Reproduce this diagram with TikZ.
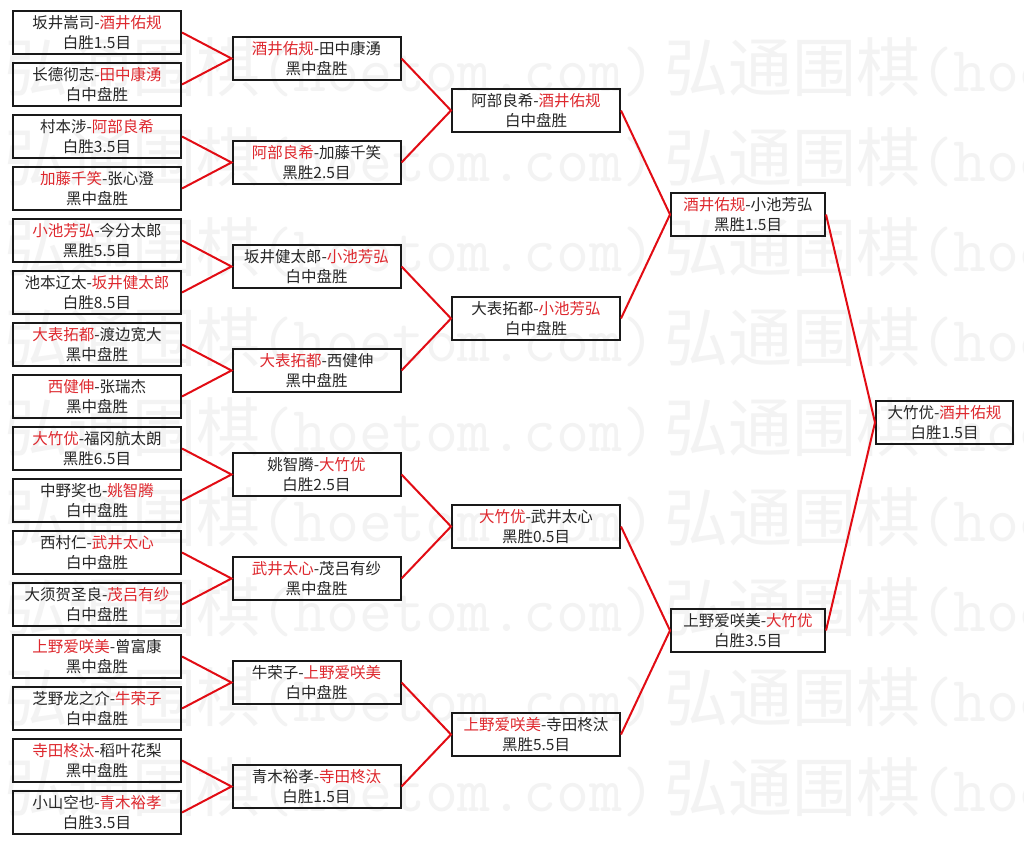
\documentclass[tikz,border=0pt]{standalone}
\usepackage{fontspec}
\setmainfont{Noto Sans CJK SC}
\usepackage{tikz}
\definecolor{linkred}{RGB}{226,12,20}
\definecolor{winred}{RGB}{222,40,46}
\definecolor{wmgray}{RGB}{243,243,243}
\newcommand{\winner}[1]{\textcolor{winred}{#1}}

\begin{document}
\begin{tikzpicture}[x=1pt,y=-1pt,
  game/.style={draw=black!90,line width=2pt,minimum width=168pt,minimum height=43pt,inner sep=0pt,align=center,font=\fontsize{15.5}{20}\selectfont,text=black!85},
  semi/.style={game,minimum width=154pt},
  final/.style={game,minimum width=137pt},
  link/.style={draw=linkred,line width=2pt},
  wmark/.style={anchor=west,inner sep=0pt,text=wmgray,font=\fontsize{64}{64}\selectfont}
]
\useasboundingbox (0,0) rectangle (1024,845);
\fill[white] (0,0) rectangle (1024,845);

% watermark rows
\begin{scope}
\clip (0,0) rectangle (1024,845);
\foreach \k in {0,...,8} {
  \foreach \s/\c in {-656/0,4/1,664/2} {
    \node[wmark] (wm-\k-\c) at (\s,67+\k*90) {弘通围棋{\ttfamily(hoetom.com)}};
  }
}
\end{scope}

% Round 1 (16 games)
\foreach \i/\pair/\res in {0/{坂井嵩司-\winner{酒井佑规}}/白胜1.5目,
  1/{长德彻志-\winner{田中康湧}}/白中盘胜,
  2/{村本涉-\winner{阿部良希}}/白胜3.5目,
  3/{\winner{加藤千笑}-张心澄}/黑中盘胜,
  4/{\winner{小池芳弘}-今分太郎}/黑胜5.5目,
  5/{池本辽太-\winner{坂井健太郎}}/白胜8.5目,
  6/{\winner{大表拓都}-渡边宽大}/黑中盘胜,
  7/{\winner{西健伸}-张瑞杰}/黑中盘胜,
  8/{\winner{大竹优}-福冈航太朗}/黑胜6.5目,
  9/{中野奖也-\winner{姚智腾}}/白中盘胜,
  10/{西村仁-\winner{武井太心}}/白中盘胜,
  11/{大须贺圣良-\winner{茂吕有纱}}/白中盘胜,
  12/{\winner{上野爱咲美}-曾富康}/黑中盘胜,
  13/{芝野龙之介-\winner{牛荣子}}/白中盘胜,
  14/{\winner{寺田柊汰}-稻叶花梨}/黑中盘胜,
  15/{小山空也-\winner{青木裕孝}}/白胜3.5目} {
  \node[game] (r1-\i) at (97,32.5+\i*52) {\pair\\\res};
}

% Round 2 (8 games)
\foreach \i/\pair/\res in {0/{\winner{酒井佑规}-田中康湧}/黑中盘胜,
  1/{\winner{阿部良希}-加藤千笑}/黑胜2.5目,
  2/{坂井健太郎-\winner{小池芳弘}}/白中盘胜,
  3/{\winner{大表拓都}-西健伸}/黑中盘胜,
  4/{姚智腾-\winner{大竹优}}/白胜2.5目,
  5/{\winner{武井太心}-茂吕有纱}/黑中盘胜,
  6/{牛荣子-\winner{上野爱咲美}}/白中盘胜,
  7/{青木裕孝-\winner{寺田柊汰}}/白胜1.5目} {
  \node[game] (r2-\i) at (316.5,58.5+\i*104) {\pair\\\res};
}

% Round 3 (4 games)
\foreach \i/\pair/\res in {0/{阿部良希-\winner{酒井佑规}}/白中盘胜,
  1/{大表拓都-\winner{小池芳弘}}/白中盘胜,
  2/{\winner{大竹优}-武井太心}/黑胜0.5目,
  3/{\winner{上野爱咲美}-寺田柊汰}/黑胜5.5目} {
  \node[game] (r3-\i) at (536,110.5+\i*208) {\pair\\\res};
}

% Semi-finals
\node[semi] (r4-0) at (748,214.5) {\winner{酒井佑规}-小池芳弘\\黑胜1.5目};
\node[semi] (r4-1) at (748,630.5) {上野爱咲美-\winner{大竹优}\\白胜3.5目};

% Final
\node[final] (r5-0) at (944.5,422.5) {大竹优-\winner{酒井佑规}\\白胜1.5目};

% connectors: two games feed one game of the next round
\foreach \i in {0,...,7} {
  \pgfmathtruncatemacro\ga{2*\i}
  \pgfmathtruncatemacro\gb{2*\i+1}
  \draw[link] (r1-\ga.east) -- (r2-\i.west) -- (r1-\gb.east);
}
\foreach \i in {0,...,3} {
  \pgfmathtruncatemacro\ga{2*\i}
  \pgfmathtruncatemacro\gb{2*\i+1}
  \draw[link] (r2-\ga.east) -- (r3-\i.west) -- (r2-\gb.east);
}
\foreach \i in {0,1} {
  \pgfmathtruncatemacro\ga{2*\i}
  \pgfmathtruncatemacro\gb{2*\i+1}
  \draw[link] (r3-\ga.east) -- (r4-\i.west) -- (r3-\gb.east);
}
\draw[link] (r4-0.east) -- (r5-0.west) -- (r4-1.east);

\end{tikzpicture}
\end{document}
